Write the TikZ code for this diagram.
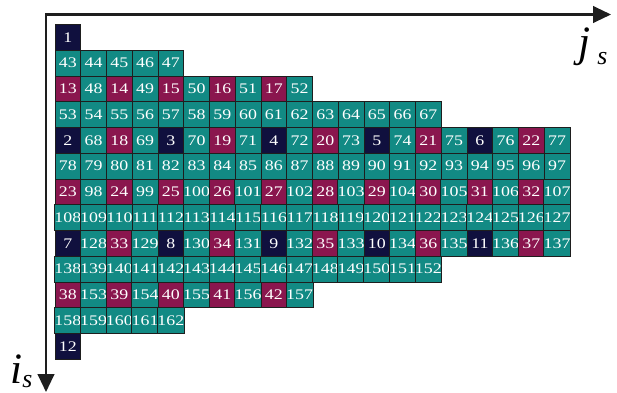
\documentclass[tikz,border=0pt]{standalone}
\usepackage{fontspec}
\setmainfont{Liberation Serif}
\newfontfamily\cellfont[FakeStretch=1.22]{Liberation Serif}
\usetikzlibrary{arrows.meta}
\definecolor{tq}{RGB}{18,138,132}
\definecolor{mg}{RGB}{138,22,78}
\definecolor{nv}{RGB}{16,16,62}
\definecolor{ink}{RGB}{30,30,30}
\tikzset{
  >={Triangle[length=5.4mm,width=5mm]},
  tile/.style={draw=ink,fill=#1,line width=0.8pt,minimum size=0.7725cm,
    inner sep=0pt,outer sep=0pt,text=white,font=\cellfont\fontsize{12.5}{13}\selectfont},
  tile/.default=tq,
  axis/.style={<->,line width=1.8pt,draw=ink},
  axlabel/.style={font=\fontsize{37}{38}\selectfont\itshape,inner sep=0pt},
}
\newcommand{\subs}[2]{\hspace{#1}\raisebox{#2}{\fontsize{22}{24}\selectfont s}}
\begin{document}
\begin{tikzpicture}[x=0.03cm,y=-0.03cm]
  \useasboundingbox (0,0) rectangle (617,392);
  % plain rows
  \foreach \r/\a/\b in {1/43/47,3/53/67,5/78/97,7/108/127,9/138/152,11/158/162}
    \foreach \n [count=\c from 0] in {\a,...,\b}
      \node[tile] (c\r-\c) at ({67.875+\c*25.75},{37.375+\r*25.75}) {\n};
  % rows with the coloured cells
  \foreach \r/\lst in {
    0/{1/nv},
    2/{13/mg,48/tq,14/mg,49/tq,15/mg,50/tq,16/mg,51/tq,17/mg,52/tq},
    4/{2/nv,68/tq,18/mg,69/tq,3/nv,70/tq,19/mg,71/tq,4/nv,72/tq,
       20/mg,73/tq,5/nv,74/tq,21/mg,75/tq,6/nv,76/tq,22/mg,77/tq},
    6/{23/mg,98/tq,24/mg,99/tq,25/mg,100/tq,26/mg,101/tq,27/mg,102/tq,
       28/mg,103/tq,29/mg,104/tq,30/mg,105/tq,31/mg,106/tq,32/mg,107/tq},
    8/{7/nv,128/tq,33/mg,129/tq,8/nv,130/tq,34/mg,131/tq,9/nv,132/tq,
       35/mg,133/tq,10/nv,134/tq,36/mg,135/tq,11/nv,136/tq,37/mg,137/tq},
    10/{38/mg,153/tq,39/mg,154/tq,40/mg,155/tq,41/mg,156/tq,42/mg,157/tq},
    12/{12/nv}}
    \foreach \n/\f [count=\c from 0] in \lst
      \node[tile=\f] (c\r-\c) at ({67.875+\c*25.75},{37.375+\r*25.75}) {\n};
  % axes
  \coordinate (o) at (46,14.5);
  \coordinate (jend) at (611,14.5);
  \coordinate (iend) at (46,392);
  \draw[axis] (jend) -- (o) -- (iend);
  \node[axlabel,anchor=base west] (jl) at (578,56) {j\subs{6pt}{-7.5pt}};
  \node[axlabel,anchor=base west] (il) at (10,383) {i\subs{0pt}{-4pt}};
\end{tikzpicture}
\end{document}
